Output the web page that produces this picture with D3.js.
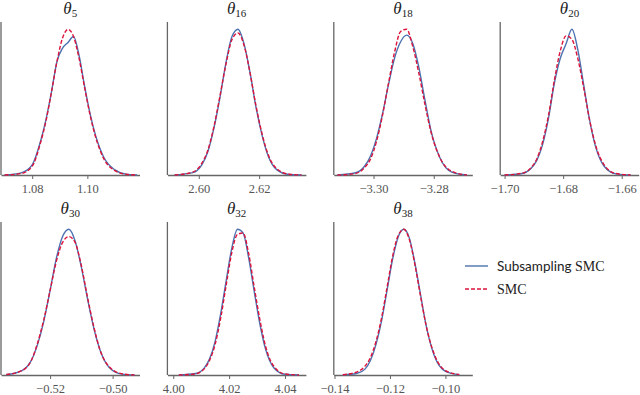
<!DOCTYPE html>
<html>
<head>
<meta charset="utf-8">
<script src="https://cdn.jsdelivr.net/npm/d3@7"></script>
<style>
  body { margin: 0; background: #fff; }
</style>
</head>
<body>
<div class="chart"></div>
<script>
// parameter subscripts, one per panel
var params = ["5", "16", "18", "20", "30", "32", "38"];

// x limits and ticks
var xLimits = [[1.0687, 1.1189], [2.5896, 2.6355], [-3.3132, -3.2672], [-1.7015, -1.6542],
               [-0.5357, -0.4914], [3.9979, 4.0475], [-0.14025, -0.0903]];
var xTicks = [[1.08, 1.10], [2.60, 2.62], [-3.30, -3.28], [-1.70, -1.68, -1.66],
              [-0.52, -0.50], [4.00, 4.02, 4.04], [-0.14, -0.12, -0.10]];

// evaluation points of the density curves
var grid = [
  [1.070, 1.076, 1.080, 1.083, 1.085, 1.087, 1.089, 1.091, 1.093, 1.095, 1.097, 1.099, 1.101, 1.103, 1.106, 1.110, 1.114, 1.118],
  [2.592, 2.598, 2.601, 2.603, 2.605, 2.607, 2.609, 2.611, 2.613, 2.615, 2.617, 2.619, 2.621, 2.623, 2.626, 2.630, 2.634],
  [-3.312, -3.306, -3.303, -3.301, -3.299, -3.297, -3.295, -3.293, -3.291, -3.289, -3.287, -3.285, -3.283, -3.281, -3.278, -3.274, -3.269],
  [-1.700, -1.694, -1.691, -1.689, -1.687, -1.685, -1.683, -1.681, -1.679, -1.677, -1.675, -1.673, -1.671, -1.669, -1.666, -1.662, -1.657],
  [-0.534, -0.529, -0.526, -0.524, -0.522, -0.520, -0.518, -0.516, -0.514, -0.512, -0.510, -0.508, -0.506, -0.504, -0.501, -0.497, -0.493],
  [4.002, 4.008, 4.011, 4.013, 4.015, 4.017, 4.019, 4.021, 4.023, 4.025, 4.027, 4.029, 4.031, 4.033, 4.036, 4.040, 4.045],
  [-0.137, -0.132, -0.129, -0.127, -0.125, -0.123, -0.121, -0.119, -0.117, -0.115, -0.113, -0.111, -0.109, -0.107, -0.104, -0.100, -0.095]
];

// relative density, Subsampling SMC (solid blue)
var subDens = [
  [0, 0.015, 0.07, 0.23, 0.38, 0.57, 0.78, 0.87, 0.91, 0.95, 0.82, 0.61, 0.42, 0.27, 0.12, 0.035, 0.006, 0],
  [0, 0.016, 0.07, 0.16, 0.32, 0.53, 0.77, 0.95, 1.0, 0.90, 0.70, 0.46, 0.27, 0.13, 0.033, 0.003, 0],
  [0, 0.015, 0.06, 0.13, 0.25, 0.42, 0.62, 0.80, 0.91, 0.955, 0.90, 0.74, 0.52, 0.31, 0.12, 0.02, 0],
  [0, 0.01, 0.045, 0.10, 0.21, 0.39, 0.63, 0.80, 0.90, 1.0, 0.86, 0.62, 0.38, 0.20, 0.06, 0.008, 0],
  [0.002, 0.03, 0.10, 0.21, 0.37, 0.58, 0.80, 0.95, 1.0, 0.92, 0.74, 0.52, 0.32, 0.17, 0.05, 0.006, 0],
  [0, 0.01, 0.045, 0.11, 0.23, 0.42, 0.65, 0.87, 0.995, 0.97, 0.80, 0.57, 0.35, 0.18, 0.05, 0.005, 0],
  [0.001, 0.01, 0.04, 0.10, 0.21, 0.37, 0.58, 0.79, 0.94, 0.99, 0.93, 0.76, 0.55, 0.34, 0.13, 0.025, 0.002]
];

// relative density, SMC (dashed red)
var smcDens = [
  [0, 0.01, 0.06, 0.22, 0.37, 0.57, 0.78, 0.94, 1.0, 0.95, 0.80, 0.60, 0.41, 0.26, 0.11, 0.03, 0.005, 0],
  [0, 0.02, 0.08, 0.17, 0.33, 0.54, 0.76, 0.93, 0.975, 0.89, 0.70, 0.47, 0.28, 0.14, 0.04, 0.005, 0],
  [0, 0.01, 0.05, 0.11, 0.23, 0.41, 0.63, 0.84, 0.98, 0.995, 0.88, 0.70, 0.49, 0.30, 0.12, 0.025, 0],
  [0, 0.012, 0.05, 0.11, 0.23, 0.41, 0.65, 0.85, 0.955, 0.93, 0.80, 0.60, 0.38, 0.21, 0.07, 0.01, 0],
  [0.003, 0.03, 0.10, 0.22, 0.38, 0.58, 0.78, 0.91, 0.95, 0.91, 0.75, 0.53, 0.33, 0.17, 0.055, 0.008, 0],
  [0, 0.008, 0.04, 0.10, 0.21, 0.39, 0.62, 0.84, 0.96, 0.97, 0.83, 0.60, 0.38, 0.20, 0.06, 0.007, 0],
  [0.002, 0.02, 0.06, 0.12, 0.23, 0.39, 0.60, 0.81, 0.95, 0.99, 0.92, 0.75, 0.54, 0.34, 0.14, 0.03, 0.003]
];

var seriesNames = ["Subsampling", "SMC"];

var width = 640, height = 395;
var blue = "#4c72b0", red = "#dc143c", axisGrey = "#666";
var serif = "'Liberation Serif', 'DejaVu Serif', serif";
var sans = "Lato, 'DejaVu Sans', sans-serif";

var svg = d3.select('.chart')
  .append('svg')
  .attr('width', width)
  .attr('height', height)
  .style('background', '#fff');

var panelW = 138.5, colStep = 166.4;
var tops = [22, 222], bottoms = [175, 375];
var fmt = d3.format(".2f");

params.forEach(function(p, i) {
  var col = i % 4, row = Math.floor(i / 4);
  var left = 1 + col * colStep;
  var top = tops[row], bottom = bottoms[row];

  var x = d3.scaleLinear().domain(xLimits[i]).range([left, left + panelW]);
  var ymax = d3.max(subDens[i].concat(smcDens[i]));
  var y = d3.scaleLinear().domain([0, ymax * 1.05]).range([bottom, top]);

  var g = svg.append('g');

  // x axis
  var ax = g.append('g')
    .attr('transform', 'translate(0,' + bottom + ')')
    .call(d3.axisBottom(x).tickValues(xTicks[i]).tickFormat(fmt).tickSize(4).tickSizeOuter(0));
  ax.attr('font-family', serif).attr('font-size', 12.5);
  ax.select('.domain').attr('stroke', axisGrey).attr('stroke-width', 1.3);
  ax.selectAll('.tick line').attr('stroke', axisGrey).attr('stroke-width', 1);
  ax.selectAll('.tick text')
    .attr('y', 9)
    .attr('fill', '#555');

  // left spine only
  g.append('line')
    .attr('x1', left).attr('x2', left)
    .attr('y1', top).attr('y2', bottom)
    .attr('stroke', axisGrey).attr('stroke-width', 1.3);

  var line = d3.line()
    .x(function(d) { return x(d[0]); })
    .y(function(d) { return y(d[1]); })
    .curve(d3.curveMonotoneX);

  g.append('path')
    .datum(d3.zip(grid[i], subDens[i]))
    .attr('d', line)
    .attr('fill', 'none')
    .attr('stroke', blue)
    .attr('stroke-width', 1.4);

  g.append('path')
    .datum(d3.zip(grid[i], smcDens[i]))
    .attr('d', line)
    .attr('fill', 'none')
    .attr('stroke', red)
    .attr('stroke-width', 1.4)
    .attr('stroke-dasharray', '4,2');

  // title theta_p
  var t = g.append('text')
    .attr('x', left + panelW / 2)
    .attr('y', top - 8)
    .attr('text-anchor', 'middle')
    .attr('fill', '#222')
    .attr('font-family', serif);
  t.append('tspan').text('θ').attr('font-style', 'italic').attr('font-size', 17);
  t.append('tspan').text(p).attr('dy', 3).attr('font-size', 11);
});

// legend
var legend = svg.append('g');
var legY = [266, 289];
var legX = 465;
legend.append('line')
  .attr('x1', legX).attr('x2', legX + 23).attr('y1', legY[0]).attr('y2', legY[0])
  .attr('stroke', blue).attr('stroke-width', 1.4);
legend.append('line')
  .attr('x1', legX).attr('x2', legX + 23).attr('y1', legY[1]).attr('y2', legY[1])
  .attr('stroke', red).attr('stroke-width', 1.4).attr('stroke-dasharray', '4,2');

var l1 = legend.append('text').attr('x', legX + 32).attr('y', legY[0] + 5).attr('fill', '#222');
l1.append('tspan').text(seriesNames[0] + ' ').attr('font-family', sans).attr('font-size', 13.5);
l1.append('tspan').text(seriesNames[1]).attr('font-family', serif).attr('font-size', 14);
legend.append('text').attr('x', legX + 32).attr('y', legY[1] + 5).attr('fill', '#222')
  .attr('font-family', serif).attr('font-size', 14)
  .text(seriesNames[1]);
</script>
</body>
</html>
